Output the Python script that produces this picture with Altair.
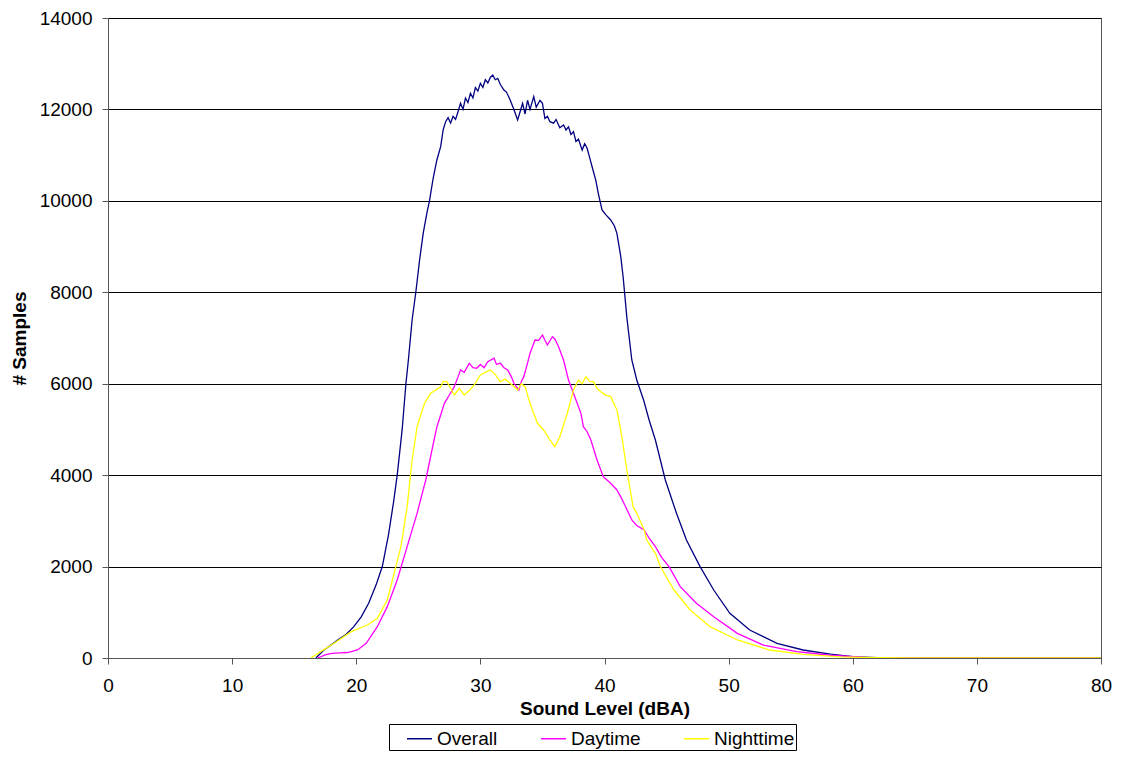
import altair as alt
import pandas as pd

# ---- data ----
overall_x = [16.75, 17.4, 18.0, 18.5, 19.2, 19.8, 20.4, 21.0, 21.6, 22.1, 22.6, 23.0, 23.3, 23.7, 24.0,
             24.2, 24.5, 24.8, 25.1, 25.4, 25.7, 25.9, 26.2, 26.5, 26.8, 27.0, 27.2, 27.4, 27.6, 27.8,
             28.0, 28.2, 28.4, 28.6, 28.8, 29.0, 29.2, 29.4, 29.6, 29.8, 30.0, 30.2, 30.4, 30.6, 30.8,
             31.0, 31.2, 31.4, 31.6, 31.9, 32.1, 32.4, 32.7, 33.0, 33.2, 33.4, 33.6, 33.8, 34.0, 34.3,
             34.5, 34.8, 35.0, 35.2, 35.4, 35.6, 35.9, 36.1, 36.4, 36.7, 36.9, 37.1, 37.3, 37.5, 37.7,
             37.9, 38.2, 38.4, 38.6, 38.8, 39.0, 39.3, 39.5, 39.8, 40.1, 40.5, 40.8, 41.0, 41.3, 41.5,
             41.8, 42.2, 42.6, 43.15, 43.6, 44.1, 44.9, 45.8, 46.6, 47.7, 48.8, 50.1, 51.7, 53.9, 56.0,
             58.2, 60.0, 62.0, 65.0, 70.0, 80.0]
overall_y = [0, 175, 290, 394, 520, 685, 900, 1196, 1600, 2000, 2700, 3400, 4000, 5000, 6000,
             6519, 7394, 8000, 8700, 9300, 9750, 10000, 10500, 10900, 11185, 11550, 11732, 11820, 11700, 11850,
             11780, 11950, 12134, 12000, 12250, 12150, 12353, 12250, 12480, 12400, 12572, 12480, 12650, 12580, 12700,
             12753, 12650, 12680, 12550, 12425, 12380, 12206, 12000, 11769, 11950, 12134, 11900, 12200, 12000, 12280,
             12050, 12200, 12134, 11800, 11850, 11732, 11700, 11780, 11600, 11659, 11550, 11620, 11450, 11513, 11300,
             11350, 11112, 11250, 11150, 10950, 10747, 10450, 10165, 9800, 9700, 9581, 9450, 9290, 8800, 8341,
             7450, 6519, 6081, 5644, 5200, 4769, 3894, 3165, 2581, 2000, 1487, 977, 612, 321, 175,
             87, 30, 10, 3, 0, 0]

day_x = [16.9, 17.5, 18.0, 18.7, 19.3, 20.1, 20.8, 21.7, 22.5, 23.3, 24.1, 24.9, 25.6, 26.1, 26.5,
         27.1, 27.5, 27.9, 28.2, 28.4, 28.7, 29.1, 29.4, 29.7, 30.0, 30.3, 30.6, 31.1, 31.3, 31.6,
         31.9, 32.2, 32.5, 32.7, 33.1, 33.3, 33.5, 33.8, 34.0, 34.4, 34.7, 35.0, 35.2, 35.4, 35.8,
         36.0, 36.3, 36.7, 37.1, 37.5, 38.1, 38.3, 38.6, 38.9, 39.4, 39.9, 40.2, 40.5, 41.0, 41.3,
         41.7, 42.2, 42.6, 43.2, 43.6, 44.1, 44.6, 45.2, 46.1, 47.4, 48.8, 50.7, 52.8, 55.5, 58.2,
         61.0, 65.0, 70.0, 80.0]
day_y = [0, 70, 102, 110, 120, 175, 321, 685, 1123, 1706, 2435, 3165, 3894, 4550, 5060,
         5571, 5753, 5935, 6150, 6300, 6250, 6446, 6350, 6337, 6420, 6350, 6480, 6556, 6420, 6450,
         6350, 6300, 6150, 6009, 5863, 6050, 6154, 6450, 6665, 6956, 6950, 7066, 6950, 6847, 7028,
         6980, 6810, 6519, 6081, 5790, 5352, 5060, 4950, 4769, 4331, 3966, 3894, 3821, 3675, 3529,
         3310, 3019, 2900, 2800, 2620, 2435, 2200, 2000, 1560, 1196, 904, 540, 284, 138, 60,
         15, 3, 0, 0]

night_x = [16.35, 17.2, 18.0, 19.6, 20.9, 21.7, 22.5, 23.05, 23.6, 24.1, 24.5, 24.9, 25.5, 26.0, 26.8,
           27.0, 27.3, 27.6, 27.9, 28.3, 28.7, 29.1, 29.5, 30.0, 30.4, 30.8, 31.2, 31.6, 32.0, 32.4,
           33.0, 33.3, 33.6, 34.0, 34.3, 34.6, 35.1, 35.6, 36.0, 36.4, 37.0, 37.5, 37.9, 38.2, 38.5,
           38.8, 39.1, 39.4, 39.7, 40.1, 40.5, 41.0, 41.4, 41.8, 42.3, 42.6, 43.2, 43.4, 44.1, 44.5,
           45.6, 46.9, 48.5, 50.7, 53.3, 56.0, 59.0, 62.0, 65.0, 80.0]
night_y = [0, 150, 284, 576, 722, 868, 1269, 1853, 2435, 3310, 4331, 5060, 5571, 5790, 5935,
           6050, 6044, 5900, 5753, 5900, 5753, 5850, 5972, 6190, 6250, 6300, 6200, 6044, 6100, 6009,
           5863, 6000, 5935, 5571, 5350, 5134, 4988, 4769, 4623, 4841, 5352, 5863, 6081, 6000, 6154,
           6050, 6044, 5900, 5826, 5750, 5717, 5425, 4841, 4112, 3310, 3165, 2800, 2581, 2290, 2000,
           1487, 1050, 685, 394, 175, 80, 25, 5, 0, 0]

series_names = ["Overall", "Daytime", "Nighttime"]
series_colors = ["#000080", "#FF00FF", "#FFFF00"]
x_ticks = [0, 10, 20, 30, 40, 50, 60, 70, 80]
y_ticks = [0, 2000, 4000, 6000, 8000, 10000, 12000, 14000]

frames = []
for name, xs, ys in zip(series_names, [overall_x, day_x, night_x], [overall_y, day_y, night_y]):
    frames.append(pd.DataFrame({"level": xs, "samples": ys, "series": name}))
df = pd.concat(frames, ignore_index=True)

FONT = "Liberation Sans"

chart = alt.Chart(df).mark_line(strokeWidth=1.3, clip=True).encode(
    x=alt.X("level:Q", title="Sound Level (dBA)",
            scale=alt.Scale(domain=[0, 80], nice=False),
            axis=alt.Axis(values=x_ticks, grid=False, labelFlush=False,
                          labelPadding=12, titlePadding=4)),
    y=alt.Y("samples:Q", title="# Samples",
            scale=alt.Scale(domain=[0, 14000], nice=False),
            axis=alt.Axis(values=y_ticks, format="d", grid=True, gridColor="#000000",
                          gridOpacity=1, gridWidth=1, labelFlush=False,
                          labelPadding=10, titlePadding=10)),
    color=alt.Color("series:N", title=None,
                    scale=alt.Scale(domain=series_names, range=series_colors),
                    legend=alt.Legend(orient="none", legendX=281, legendY=706, direction="horizontal",
                                      symbolType="stroke", symbolSize=625, symbolStrokeWidth=1.5,
                                      symbolOffset=16,
                                      labelFontSize=19, labelFont=FONT, labelColor="#000000",
                                      labelOffset=4, columnPadding=26, padding=1,
                                      strokeColor="#000000", fillColor="#FFFFFF")),
    detail="series:N",
).properties(
    width=993, height=640,
    background="#FFFFFF",
    autosize=alt.AutoSizeParams(type="none"),
    padding={"left": 100, "top": 10, "right": 12, "bottom": 96},
).configure_view(
    stroke="#555555", strokeWidth=1
).configure_axis(
    labelFont=FONT, labelFontSize=19, labelColor="#000000",
    titleFont=FONT, titleFontSize=19, titleFontWeight="bold", titleColor="#000000",
    domainColor="#555555", tickColor="#555555", tickSize=6,
)

chart.save("out.html", embed_options={"renderer": "svg", "actions": False})
